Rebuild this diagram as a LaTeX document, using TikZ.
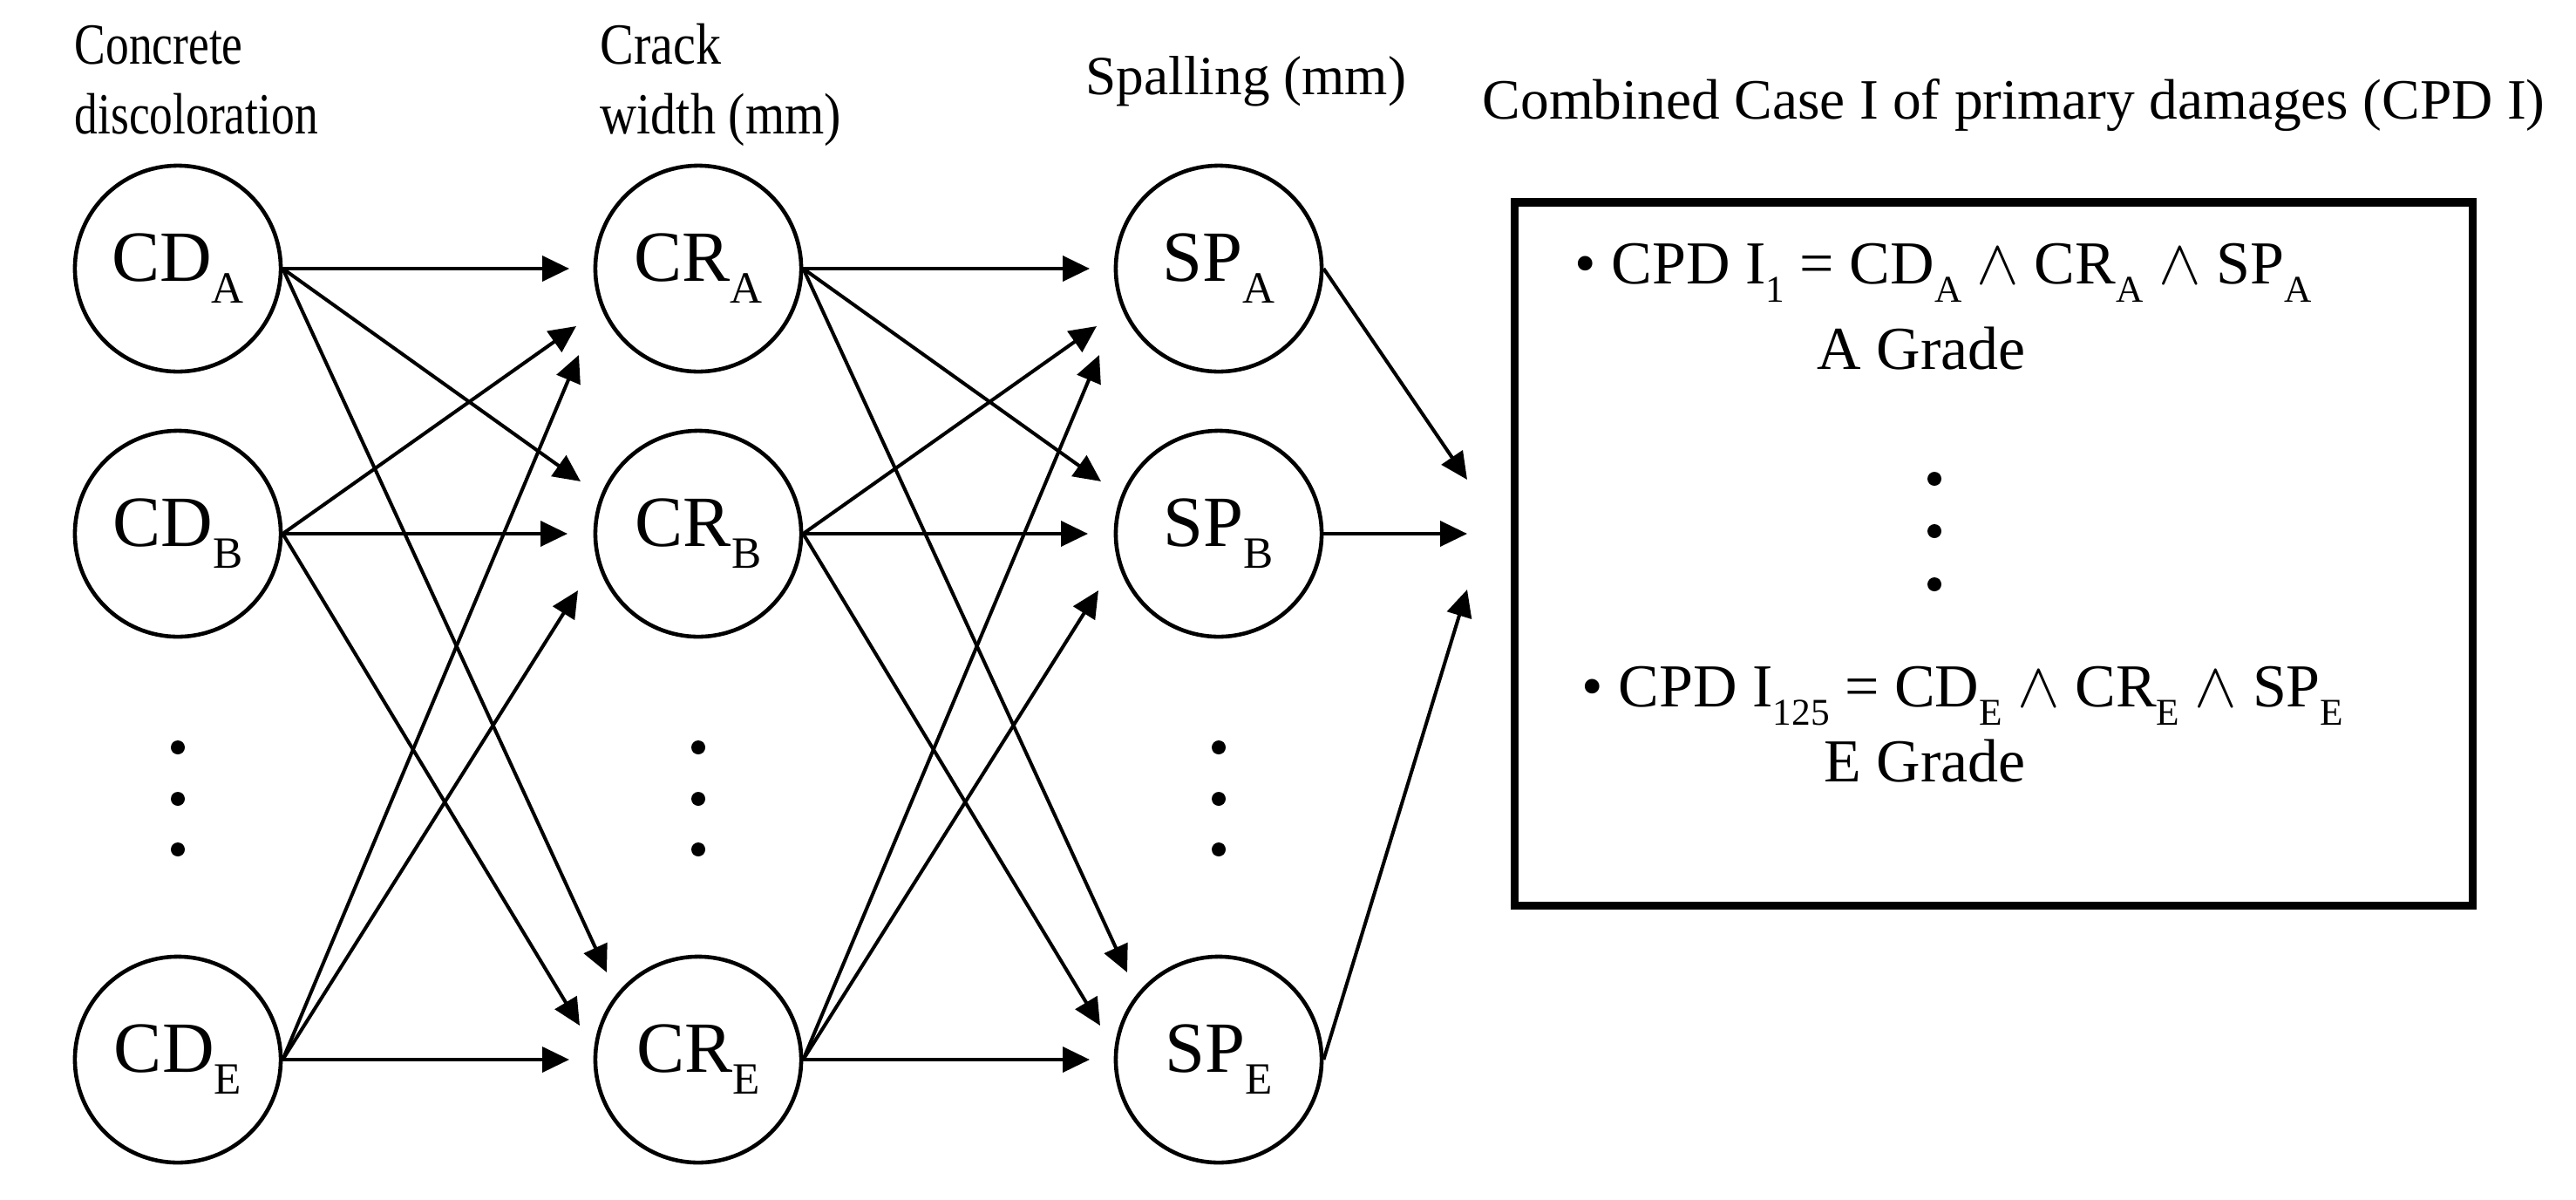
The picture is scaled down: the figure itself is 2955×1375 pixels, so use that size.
\documentclass[tikz,border=0pt]{standalone}
\usepackage{fontspec}
\setmainfont{Liberation Serif}
\newfontfamily\narrowserif{Liberation Serif}[FakeStretch=0.8]
\newfontfamily\halfnarrowserif{Liberation Serif}[FakeStretch=0.87]
\usetikzlibrary{arrows.meta}
\newcommand{\sbs}[1]{\raisebox{-0.3em}{\scalebox{0.62}{#1}}}

\begin{document}
\begin{tikzpicture}
[x=0.01cm,y=-0.01cm,
  nodeDecorate/.style={shape=circle,draw,line width=1.3pt,minimum size=2.36cm,inner sep=0pt,font=\fontsize{23.5}{26}\selectfont},
  lineDecorate/.style={line width=1.15pt,-{Triangle[length=8.8pt,width=8.2pt]}},
  headDecorate/.style={anchor=base west,inner sep=0pt,align=left,font=\fontsize{19}{22.5}\selectfont\narrowserif},
  textDecorate/.style={anchor=base west,inner sep=0pt,font=\fontsize{19.9}{24}\selectfont}]
\useasboundingbox (0,0) rectangle (2955,1375);
%% column headings (base = last line)
\node (headCD) at (85,153) [headDecorate] {Concrete\\discoloration};
\node (headCR) at (688,153) [headDecorate,font=\fontsize{19}{22.5}\selectfont\halfnarrowserif] {Crack\\width (mm)};
\node (headSP) at (1245,108) [headDecorate,font=\fontsize{18}{21.6}\selectfont] {Spalling (mm)};
\node (headCPD) at (1700,136) [headDecorate,font=\fontsize{18.6}{21.6}\selectfont] {Combined Case I of primary damages (CPD I)};
%% nodes or vertices
\foreach \pre/\x in {CD/204, CR/801, SP/1398}
{
  \foreach \row/\y in {A/308, B/612, E/1215}
  {
    \node (\pre\row) at (\x,\y) [nodeDecorate] {\pre\sbs{\row}};
  }
  \foreach \y in {857, 916, 974}
    \fill (\x,\y) circle (0.08cm);
}
%% edges or lines
\foreach \s/\t/\dx/\dy in {A/A/-148/0, B/A/-140/66, E/A/-137/99,
  A/B/-135/-60, B/B/-150/0, E/B/-138/65, A/E/-105/-100, B/E/-136/-39, E/E/-148/0}
{
  \draw[lineDecorate] (CD\s.east) -- ([shift={(\dx,\dy)}]CR\t.center);
  \draw[lineDecorate] (CR\s.east) -- ([shift={(\dx,\dy)}]SP\t.center);
}
\coordinate (merge) at (1683,612);
\foreach \row/\dy in {A/-62, B/0, E/64}
  \draw[lineDecorate] (SP\row.east) -- ([shift={(0,\dy)}]merge);
%% combined case box
\node (cpdBox) at (2287,635) [draw,line width=2.7pt,minimum width=10.98cm,minimum height=8.06cm] {};
\node (caseFirst) at (1806,325) [textDecorate] {\textbullet\ CPD I\sbs{1} = CD\sbs{A} $\wedge$ CR\sbs{A} $\wedge$ SP\sbs{A}};
\node (gradeA) at (2084,423) [textDecorate] {A Grade};
\foreach \y in {549, 609, 670}
  \fill (2219,\y) circle (0.08cm);
\node (caseLast) at (1814,810) [textDecorate] {\textbullet\ CPD I\sbs{125} = CD\sbs{E} $\wedge$ CR\sbs{E} $\wedge$ SP\sbs{E}};
\node (gradeE) at (2092,896) [textDecorate] {E Grade};
\end{tikzpicture}
\end{document}
